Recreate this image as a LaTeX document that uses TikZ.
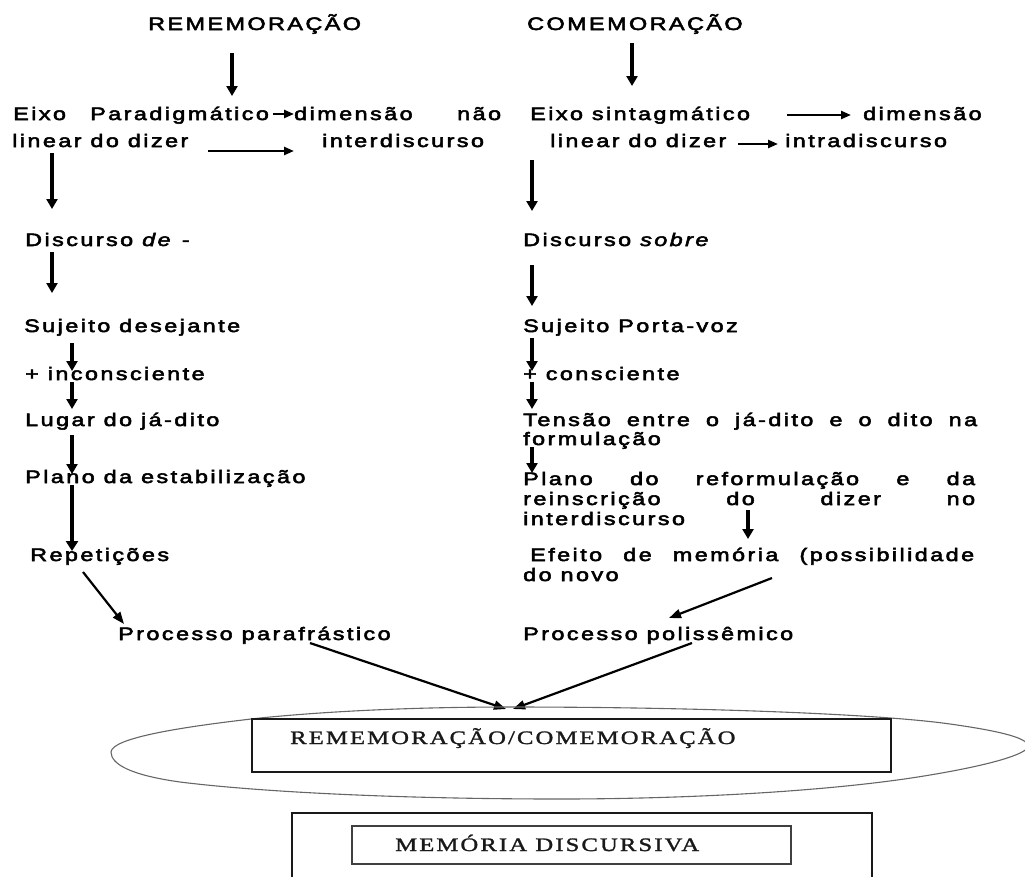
\documentclass[tikz,border=0pt]{standalone}
\usepackage{fontspec}
\usetikzlibrary{arrows.meta}
\newfontfamily\sansbody[FakeStretch=1.3,LetterSpace=13.5,FakeBold=3]{Liberation Sans}
\newfontfamily\serifbox[FakeStretch=1.3,LetterSpace=11,FakeBold=1.5]{Liberation Serif}
\tikzset{
  txt/.style={anchor=base west, inner sep=0pt, font=\sansbody\fontsize{18}{21}\selectfont, text=black},
  boxtxt/.style={anchor=base west, inner sep=0pt, font=\serifbox\fontsize{19}{22}\selectfont, text=black!90},
  varrow/.style={line width=3.2pt, -{Triangle[length=10pt,width=11pt]}},
  bigarrow/.style={line width=4.5pt, -{Triangle[length=10pt,width=12pt]}},
  harrow/.style={line width=2.4pt, -{Triangle[length=10pt,width=8pt]}},
  darrow/.style={line width=2.2pt, -{Triangle[length=12pt,width=9pt]}},
  frame/.style={draw=black!90, line width=1.3pt},
}
\begin{document}
\begin{tikzpicture}[x=1pt,y=-1pt]
\useasboundingbox (0,0) rectangle (1025,876);

% titles
\node[txt] (remem) at (148,30) {REMEMORAÇÃO};
\node[txt] (comem) at (527,30) {COMEMORAÇÃO};

% row 1
\node[txt] (eixoA) at (13,120) {Eixo};
\node[txt] (parad) at (90,120) {Paradigmático};
\node[txt] (dimA) at (294,120) {dimensão};
\node[txt] (nao) at (457,120) {não};
\node[txt] (eixoB) at (530,120) {Eixo sintagmático};
\node[txt] (dimB) at (863,120) {dimensão};

% row 2
\node[txt] (linA) at (12,147) {linear do dizer};
\node[txt] (inter) at (322,147) {interdiscurso};
\node[txt] (linB) at (550,147) {linear do dizer};
\node[txt] (intra) at (785,147) {intradiscurso};

% left column
\node[txt] (discde) at (25,246) {Discurso \textit{de} -};
\node[txt] (sujdes) at (24,332) {Sujeito desejante};
\node[txt] (incons) at (25,380) {+ inconsciente};
\node[txt] (lugar) at (25,426) {Lugar do já-dito};
\node[txt] (planoE) at (25,483) {Plano da estabilização};
\node[txt] (repet) at (30,561) {Repetições};
\node[txt] (paraf) at (118,640) {Processo parafrástico};

% right column
\node[txt] (discsob) at (523,246) {Discurso \textit{sobre}};
\node[txt] (sujport) at (523,332) {Sujeito Porta-voz};
\node[txt] (cons) at (523,380) {+ consciente};
\node[txt] (tensao) at (523,426) {\makebox[454pt][s]{Tensão entre o já-dito e o dito na}};
\node[txt] (formul) at (523,445) {formulação};
\node[txt] (planoR) at (523,485) {\makebox[452pt][s]{Plano do reformulação e da}};
\node[txt] (reins) at (523,505) {\makebox[452pt][s]{reinscrição do dizer no}};
\node[txt] (interd) at (523,525) {interdiscurso};
\node[txt] (efeito) at (530,561) {\makebox[444pt][s]{Efeito de memória (possibilidade}};
\node[txt] (novo) at (523,581) {do novo};
\node[txt] (polis) at (523,640) {Processo polissêmico};

% arrow end points
\coordinate (a1s) at (232,53);  \coordinate (a1e) at (232,96);
\coordinate (a2s) at (632,43);  \coordinate (a2e) at (632,86);
\coordinate (h1s) at (273,114); \coordinate (h1e) at (294,114);
\coordinate (h2s) at (208,151); \coordinate (h2e) at (294,151);
\coordinate (h3s) at (787,115); \coordinate (h3e) at (851,115);
\coordinate (h4s) at (738,144); \coordinate (h4e) at (778,144);
\coordinate (v1s) at (52,153);  \coordinate (v1e) at (52,209);
\coordinate (v2s) at (532,160); \coordinate (v2e) at (532,211);
\coordinate (v3s) at (52,252);  \coordinate (v3e) at (52,293);
\coordinate (v4s) at (532,265); \coordinate (v4e) at (532,306);
\coordinate (v5s) at (72,343);  \coordinate (v5e) at (72,371);
\coordinate (v6s) at (532,338); \coordinate (v6e) at (532,371);
\coordinate (v7s) at (72,382);  \coordinate (v7e) at (72,409);
\coordinate (v8s) at (532,382); \coordinate (v8e) at (532,409);
\coordinate (v9s) at (72,435);  \coordinate (v9e) at (72,474);
\coordinate (v10s) at (72,485); \coordinate (v10e) at (72,551);
\coordinate (v11s) at (532,447); \coordinate (v11e) at (532,473);
\coordinate (v12s) at (748,510); \coordinate (v12e) at (748,539);
\coordinate (d1s) at (83,572);  \coordinate (d1e) at (124,624);
\coordinate (d2s) at (772,578); \coordinate (d2e) at (669,618);
\coordinate (d3s) at (310,643); \coordinate (d3e) at (506,709);
\coordinate (d4s) at (692,643); \coordinate (d4e) at (513,709);

\draw[varrow] (a1s) -- (a1e);
\draw[varrow] (a2s) -- (a2e);
\draw[harrow] (h1s) -- (h1e);
\draw[harrow] (h2s) -- (h2e);
\draw[harrow] (h3s) -- (h3e);
\draw[harrow] (h4s) -- (h4e);
\draw[varrow] (v1s) -- (v1e);
\draw[varrow] (v2s) -- (v2e);
\draw[varrow] (v3s) -- (v3e);
\draw[varrow] (v4s) -- (v4e);
\draw[varrow] (v5s) -- (v5e);
\draw[varrow] (v6s) -- (v6e);
\draw[varrow] (v7s) -- (v7e);
\draw[varrow] (v8s) -- (v8e);
\draw[varrow] (v9s) -- (v9e);
\draw[bigarrow] (v10s) -- (v10e);
\draw[varrow] (v11s) -- (v11e);
\draw[varrow] (v12s) -- (v12e);
\draw[darrow] (d1s) -- (d1e);
\draw[darrow] (d2s) -- (d2e);
\draw[darrow] (d3s) -- (d3e);
\draw[darrow] (d4s) -- (d4e);

% lens-shaped ellipse and boxes
\begin{scope}
\clip (0,0) rectangle (1025,876);
\draw[draw=black!60, line width=1.1pt]
  (111,752) .. controls (112,738) and (180,727) .. (260,718)
  .. controls (340,710) and (430,707) .. (510,707)
  .. controls (700,707) and (880,714) .. (950,724)
  .. controls (1000,731) and (1028,738) .. (1028,746)
  .. controls (1028,754) and (990,765) .. (930,775)
  .. controls (830,792) and (680,799) .. (560,799)
  .. controls (400,799) and (260,792) .. (180,782)
  .. controls (130,775) and (111,764) .. (111,752) -- cycle;
\draw[frame] (252,719) rectangle (891,772);
\draw[frame] (292,880) -- (292,813) -- (872,813) -- (872,880);
\draw[frame, draw=black!75] (352,826) rectangle (791,864);
\end{scope}
\node[boxtxt] (rc) at (290,744) {REMEMORAÇÃO/COMEMORAÇÃO};
\node[boxtxt] (md) at (395,851) {MEMÓRIA DISCURSIVA};
\end{tikzpicture}
\end{document}
